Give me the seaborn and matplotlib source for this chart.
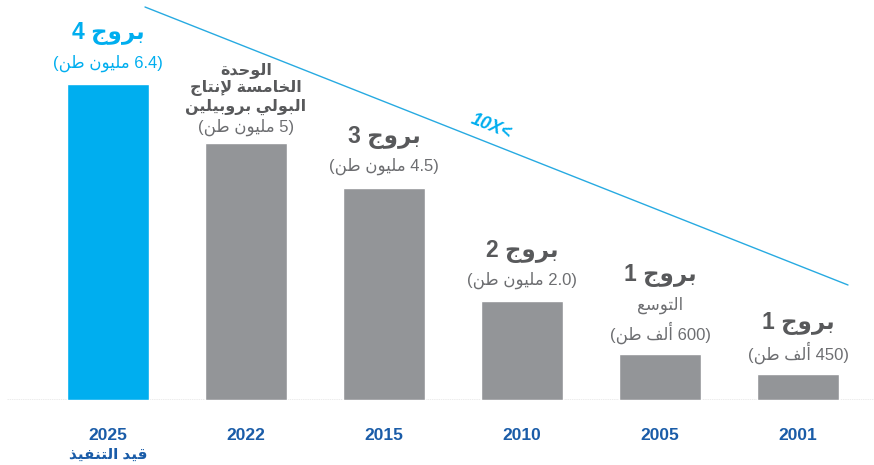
import matplotlib
matplotlib.use("Agg")
import matplotlib.pyplot as plt
from matplotlib.lines import Line2D
import seaborn as sns
import pandas as pd

# data (right-to-left chart, newest first)
years = ["2025", "2022", "2015", "2010", "2005", "2001"]
heights = [6.4, 5.2, 4.3, 2.0, 0.93, 0.53]   # bar heights as drawn
amounts = ["6.4", "5", "4.5", "2.0", "600", "450"]
units = ["مليون طن", "مليون طن", "مليون طن", "مليون طن", "ألف طن", "ألف طن"]
titles = ["بروج 4", None, "بروج 3", "بروج 2", "بروج 1", "بروج 1"]
title_2022 = ["الوحدة", "الخامسة لإنتاج", "البولي بروبيلين"]
note_2005 = "التوسع"
note_2025 = "قيد التنفيذ"
bar_colors = ["#00aeef", "#939598", "#939598", "#939598", "#939598", "#939598"]

BLUE = "#00aeef"
DARK = "#58595b"
MID = "#6d6e71"
NAVY = "#1a5ca8"

# small arabic shaper: presentation forms + visual (reversed) order
FORMS = {
    "ا": "\ufe8d\ufe8e", "أ": "\ufe83\ufe84", "إ": "\ufe87\ufe88",
    "ب": "\ufe8f\ufe90\ufe91\ufe92", "ة": "\ufe93\ufe94", "ت": "\ufe95\ufe96\ufe97\ufe98",
    "ج": "\ufe9d\ufe9e\ufe9f\ufea0", "ح": "\ufea1\ufea2\ufea3\ufea4", "خ": "\ufea5\ufea6\ufea7\ufea8",
    "د": "\ufea9\ufeaa", "ذ": "\ufeab\ufeac", "ر": "\ufead\ufeae",
    "س": "\ufeb1\ufeb2\ufeb3\ufeb4", "ط": "\ufec1\ufec2\ufec3\ufec4", "ع": "\ufec9\ufeca\ufecb\ufecc",
    "ف": "\ufed1\ufed2\ufed3\ufed4", "ق": "\ufed5\ufed6\ufed7\ufed8", "ل": "\ufedd\ufede\ufedf\ufee0",
    "م": "\ufee1\ufee2\ufee3\ufee4", "ن": "\ufee5\ufee6\ufee7\ufee8", "و": "\ufeed\ufeee",
    "ي": "\ufef1\ufef2\ufef3\ufef4",
    "لا": "\ufefb\ufefc", "لأ": "\ufef7\ufef8", "لإ": "\ufef9\ufefa",
}


def shape(s):
    toks = []
    i = 0
    while i < len(s):
        if s[i] == "ل" and s[i:i + 2] in FORMS and len(s[i:i + 2]) == 2:
            toks.append(s[i:i + 2])
            i += 2
        else:
            toks.append(s[i])
            i += 1
    out = []
    for k, t in enumerate(toks):
        f = FORMS.get(t)
        if f is None:
            out.append(t)
            continue
        prev = toks[k - 1] if k > 0 else None
        nxt = toks[k + 1] if k + 1 < len(toks) else None
        jp = prev in FORMS and len(FORMS[prev]) == 4
        jn = len(f) == 4 and nxt in FORMS
        if jp and jn:
            out.append(f[3])
        elif jp:
            out.append(f[1])
        elif jn:
            out.append(f[2])
        else:
            out.append(f[0])
    return "".join(out)


def ar(s):
    return shape(s)[::-1]


def title_vis(t):
    word, num = t.split(" ")
    return num + " " + ar(word)


def amount_vis(a, u):
    return "(" + ar(u) + " " + a + ")"


sns.set_style("white")
plt.rcParams["font.family"] = ["Liberation Sans", "DejaVu Sans"]

df = pd.DataFrame({"year": years, "height": heights})

fig = plt.figure(figsize=(8.74, 4.65), dpi=100)
ax = fig.add_axes([0, 65 / 465, 1, 400 / 465])
sns.barplot(data=df, x="year", y="height", hue="year", palette=bar_colors,
            width=0.587, saturation=1, legend=False, ax=ax, order=years)

ax.set_xlim(-108 / 138, 766 / 138)
ax.set_ylim(0, 8.1)
for s in ax.spines.values():
    s.set_visible(False)
ax.set_yticks([])
ax.set_xlabel("")
ax.set_ylabel("")
ax.set_xticks(range(len(years)))
ax.set_xticklabels(years, fontsize=12.5, fontweight="bold", color=NAVY)
ax.tick_params(axis="x", length=0, pad=20)
ax.axhline(0, xmin=7 / 874, xmax=1, color="#a0a0a0", lw=1, ls=(0, (1, 0.6)),
           zorder=0.5)

ax.annotate(ar(note_2025), xy=(0, 0), xytext=(0, -55), textcoords="offset pixels",
            ha="center", va="center", fontsize=11, fontweight="bold", color=NAVY)


def lab(i, text, off, size, weight, color):
    ax.annotate(text, xy=(i, heights[i]), xytext=(0, off), textcoords="offset pixels",
                ha="center", va="center", fontsize=size, fontweight=weight, color=color)


for i in range(len(years)):
    c_title = BLUE if i == 0 else DARK
    c_val = BLUE if i == 0 else MID
    val_off = 16 if i == 1 else 21
    lab(i, amount_vis(amounts[i], units[i]), val_off, 12, "normal", c_val)
    if titles[i] is not None:
        t_off = 79 if i == 4 else 50
        lab(i, title_vis(titles[i]), t_off, 16.5, "bold", c_title)

# 2022 multi-line title
for line, off in zip(title_2022, [73, 55, 36]):
    lab(1, ar(line), off, 11.5, "bold", DARK)
# 2005 note
lab(4, ar(note_2005), 49, 12, "normal", MID)

# growth line and 10X marker
fig.add_artist(Line2D([145 / 874, 848 / 874], [1 - 7 / 465, 1 - 285 / 465],
                      transform=fig.transFigure, color="#27aae1", lw=1))
fig.text(491 / 874, 1 - 127 / 465, "10X<", rotation=-21.6, rotation_mode="anchor",
         ha="center", va="center", fontsize=13, fontweight="bold", style="italic",
         color=BLUE)

fig.savefig("out.png", dpi=100)
